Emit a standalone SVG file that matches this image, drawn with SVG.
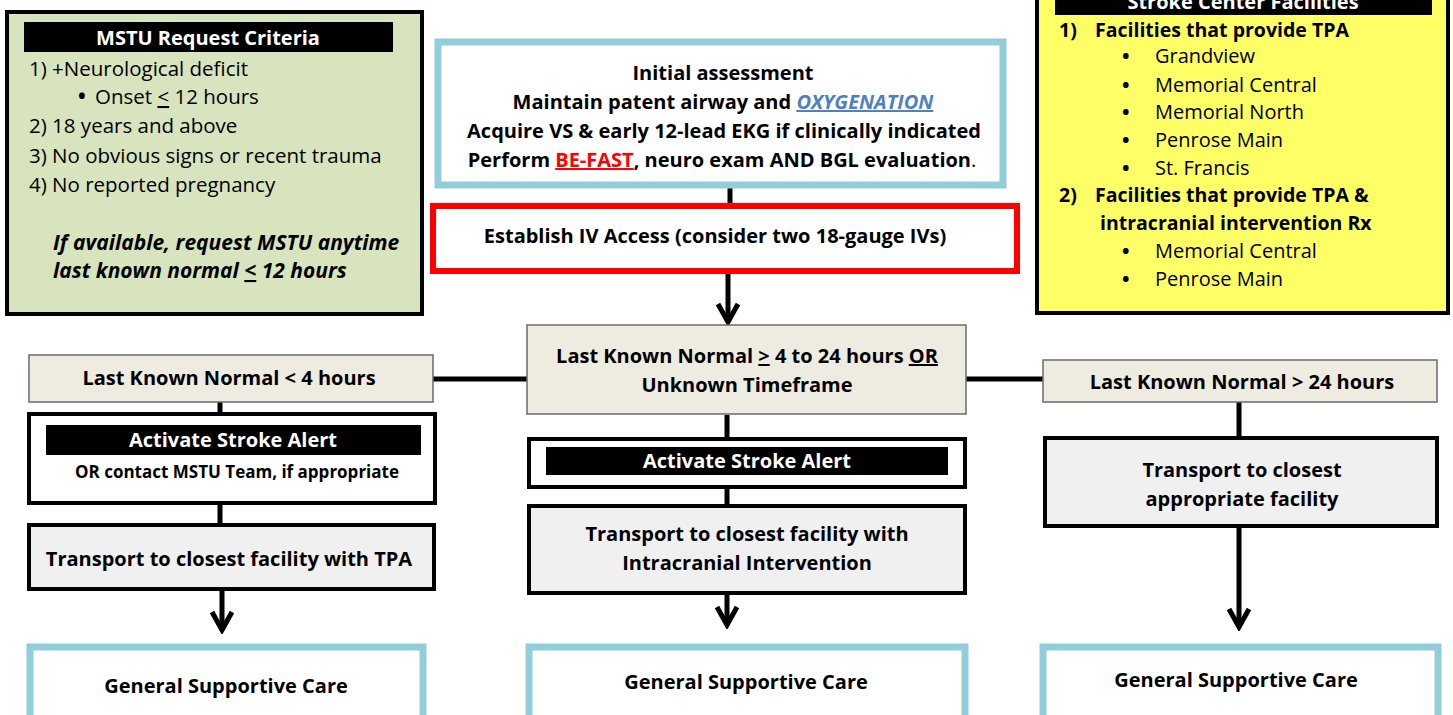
<svg xmlns="http://www.w3.org/2000/svg" width="1453" height="715" viewBox="0 0 1453 715">
  <style>
    text { font-family: "Open Sans", "Noto Sans", "Liberation Sans", sans-serif; fill: #000; }
    .b { font-weight: bold; }
    .c { text-anchor: middle; }
    .w { fill: #fff; }
    .t21 { font-size: 21px; }
    .t20 { font-size: 20px; }
    .h19 { font-size: 19.5px; }
    .r20 { font-size: 20.5px; }
    .t17 { font-size: 17px; }
    .u { text-decoration: underline; }
    .lkn { fill: #eeece1; stroke: #6b6b6b; stroke-width: 1.5; }
    .step { fill: #fff; stroke: #000; stroke-width: 4; }
    .transport { fill: #f0f0f0; stroke: #000; stroke-width: 4; }
    .care { fill: #fff; stroke: #92cddc; stroke-width: 7; }
    .bar { fill: #000; }
    .wire { stroke: #000; stroke-width: 5; fill: none; }
  </style>
  <defs>
    <marker id="chev" markerUnits="userSpaceOnUse" viewBox="-22 -14 26 28" markerWidth="26" markerHeight="28" refX="0" refY="0" orient="auto">
      <path d="M-18,-10 L0,0 L-18,10" fill="none" stroke="#000" stroke-width="5" stroke-linejoin="miter"/>
    </marker>
  </defs>

  <rect width="1453" height="715" fill="#fff"/>

  <!-- connectors -->
  <g id="connectors">
    <line class="wire" x1="730" y1="188" x2="730" y2="204"/>
    <line class="wire" x1="728" y1="273" x2="728" y2="322" marker-end="url(#chev)"/>
    <line class="wire" x1="432" y1="379" x2="528" y2="379"/>
    <line class="wire" x1="966" y1="379" x2="1043" y2="379"/>
    <line class="wire" x1="220" y1="402" x2="220" y2="413"/>
    <line class="wire" x1="220" y1="504" x2="220" y2="524"/>
    <line class="wire" x1="222" y1="590" x2="222" y2="630" marker-end="url(#chev)"/>
    <line class="wire" x1="727" y1="415" x2="727" y2="438"/>
    <line class="wire" x1="727" y1="488" x2="727" y2="505"/>
    <line class="wire" x1="727" y1="595" x2="727" y2="625" marker-end="url(#chev)"/>
    <line class="wire" x1="1239" y1="402" x2="1239" y2="437"/>
    <line class="wire" x1="1239" y1="527" x2="1239" y2="627" marker-end="url(#chev)"/>
  </g>

  <!-- MSTU request criteria panel -->
  <g id="mstu-criteria">
    <rect x="7" y="12" width="415" height="302" fill="#d7e4bd" stroke="#000" stroke-width="4"/>
    <rect class="bar" x="24" y="22" width="369" height="30"/>
    <text class="b c w t20" x="208" y="45">MSTU Request Criteria</text>
    <text class="r20" x="29" y="76">1) +Neurological deficit</text>
    <text class="r20" x="78" y="104"><tspan class="b">•</tspan><tspan x="95">Onset </tspan><tspan class="u">&lt;</tspan> 12 hours</text>
    <text class="r20" x="29" y="133">2) 18 years and above</text>
    <text class="r20" x="29" y="163">3) No obvious signs or recent trauma</text>
    <text class="r20" x="29" y="192">4) No reported pregnancy</text>
    <text class="b t21" x="53" y="250" font-style="italic">If available, request MSTU anytime</text>
    <text class="b t21" x="53" y="278" font-style="italic">last known normal <tspan class="u">&lt;</tspan> 12 hours</text>
  </g>

  <!-- stroke center facilities panel -->
  <g id="stroke-centers">
    <rect x="1037" y="-10" width="411" height="323" fill="#ffff66" stroke="#000" stroke-width="4"/>
    <rect class="bar" x="1055" y="-10" width="377" height="25"/>
    <text class="b c w t20" x="1243" y="9">Stroke Center Facilities</text>
    <text class="b h19" x="1059" y="37">1)<tspan x="1095">Facilities that provide TPA</tspan></text>
    <g class="t20">
      <text x="1122" y="63"><tspan class="b">•</tspan><tspan x="1155">Grandview</tspan></text>
      <text x="1122" y="92"><tspan class="b">•</tspan><tspan x="1155">Memorial Central</tspan></text>
      <text x="1122" y="119"><tspan class="b">•</tspan><tspan x="1155">Memorial North</tspan></text>
      <text x="1122" y="147"><tspan class="b">•</tspan><tspan x="1155">Penrose Main</tspan></text>
      <text x="1122" y="175"><tspan class="b">•</tspan><tspan x="1155">St. Francis</tspan></text>
    </g>
    <text class="b h19" x="1059" y="202">2)<tspan x="1095">Facilities that provide TPA &amp;</tspan></text>
    <text class="b h19" x="1100" y="230">intracranial intervention Rx</text>
    <g class="t20">
      <text x="1122" y="258"><tspan class="b">•</tspan><tspan x="1155">Memorial Central</tspan></text>
      <text x="1122" y="286"><tspan class="b">•</tspan><tspan x="1155">Penrose Main</tspan></text>
    </g>
  </g>

  <!-- initial assessment -->
  <g id="initial-assessment">
    <rect x="438" y="42" width="565" height="143" fill="#fff" stroke="#92cddc" stroke-width="7"/>
    <text class="b c t20" x="723" y="80">Initial assessment</text>
    <text class="b c t20" x="723" y="109">Maintain patent airway and <tspan class="u" fill="#4f81bd" font-style="italic">OXYGENATION</tspan></text>
    <text class="b c t20" x="724" y="138">Acquire VS &amp; early 12-lead EKG if clinically indicated</text>
    <text class="t20" x="722" y="167" text-anchor="middle"><tspan class="b">Perform </tspan><tspan class="b u" fill="#ff0000">BE-FAST</tspan><tspan class="b">, neuro exam AND BGL evaluation</tspan>.</text>
  </g>

  <!-- IV access -->
  <g id="iv-access">
    <rect x="433" y="206" width="584" height="65" fill="#fff" stroke="#ff0000" stroke-width="6"/>
    <text class="b c t20" x="715" y="243">Establish IV Access (consider two 18-gauge IVs)</text>
  </g>

  <!-- last known normal branches -->
  <g id="lkn-under-4">
    <rect class="lkn" x="29" y="355" width="404" height="47"/>
    <text class="b c t20" x="229" y="385">Last Known Normal &lt; 4 hours</text>
  </g>
  <g id="lkn-4-to-24">
    <rect class="lkn" x="527" y="325" width="439" height="89"/>
    <text class="b c t20" x="747" y="363">Last Known Normal <tspan class="u">&gt;</tspan> 4 to 24 hours <tspan class="u">OR</tspan></text>
    <text class="b c t20" x="747" y="392">Unknown Timeframe</text>
  </g>
  <g id="lkn-over-24">
    <rect class="lkn" x="1043" y="360" width="394" height="42"/>
    <text class="b c t20" x="1242" y="389">Last Known Normal &gt; 24 hours</text>
  </g>

  <!-- left column -->
  <g id="alert-left">
    <rect class="step" x="29" y="414" width="406" height="89"/>
    <rect class="bar" x="46" y="425" width="375" height="30"/>
    <text class="b c w t20" x="233" y="447">Activate Stroke Alert</text>
    <text class="b c t17" x="237" y="478">OR contact MSTU Team, if appropriate</text>
  </g>
  <g id="transport-tpa">
    <rect class="transport" x="29" y="525" width="405" height="64"/>
    <text class="b c t20" x="229" y="566">Transport to closest facility with TPA</text>
  </g>
  <g id="care-left">
    <rect class="care" x="30" y="647" width="393" height="75"/>
    <text class="b c t20" x="226" y="693">General Supportive Care</text>
  </g>

  <!-- middle column -->
  <g id="alert-middle">
    <rect class="step" x="529" y="439" width="436" height="48"/>
    <rect class="bar" x="546" y="447" width="402" height="28"/>
    <text class="b c w t20" x="747" y="468">Activate Stroke Alert</text>
  </g>
  <g id="transport-intracranial">
    <rect class="transport" x="529" y="506" width="436" height="87"/>
    <text class="b c t20" x="747" y="541">Transport to closest facility with</text>
    <text class="b c t20" x="747" y="570">Intracranial Intervention</text>
  </g>
  <g id="care-middle">
    <rect class="care" x="529" y="647" width="436" height="75"/>
    <text class="b c t20" x="746" y="689">General Supportive Care</text>
  </g>

  <!-- right column -->
  <g id="transport-appropriate">
    <rect class="transport" x="1045" y="438" width="392" height="88"/>
    <text class="b c t20" x="1242" y="477">Transport to closest</text>
    <text class="b c t20" x="1242" y="506">appropriate facility</text>
  </g>
  <g id="care-right">
    <rect class="care" x="1043" y="647" width="395" height="75"/>
    <text class="b c t20" x="1236" y="687">General Supportive Care</text>
  </g>
</svg>
